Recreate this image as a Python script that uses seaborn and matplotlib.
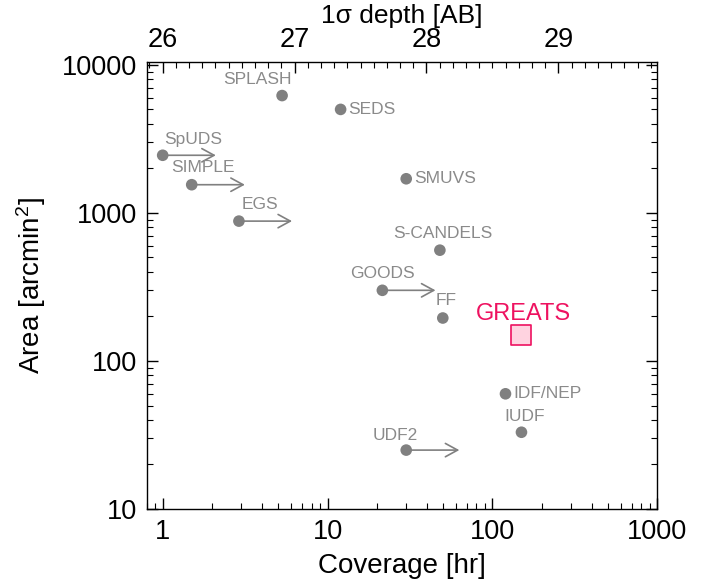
import numpy as np
import pandas as pd
import matplotlib
matplotlib.use("Agg")
import matplotlib.pyplot as plt
import matplotlib.ticker as mticker
import seaborn as sns

# survey data
names = ['SPLASH', 'SEDS', 'SpUDS', 'SIMPLE', 'EGS', 'SMUVS',
         'S-CANDELS', 'GOODS', 'FF', 'IDF/NEP', 'IUDF', 'UDF2']
coverage = [5.3, 12, 1.0, 1.5, 2.9, 30, 48, 21.5, 50, 120, 150, 30]   # hr
area = [6200, 5000, 2450, 1550, 880, 1700, 560, 300, 195, 60, 33, 25]  # arcmin^2
lower_limit = [False, False, True, True, True, False,
               False, True, False, False, False, True]

greats_cov = 150
greats_area = 150

arrow_factor = 2.1

# label placement (pixels from the dot) and alignment
label_offsets = {
    'SPLASH': (-25, 16, 'center'), 'SEDS': (8, 0, 'left'),
    'SpUDS': (31, 16, 'center'), 'SIMPLE': (11, 17, 'center'),
    'EGS': (21, 17, 'center'), 'SMUVS': (8, 0, 'left'),
    'S-CANDELS': (3, 17, 'center'), 'GOODS': (0, 17, 'center'),
    'FF': (3, 18, 'center'), 'IDF/NEP': (8, 0, 'left'),
    'IUDF': (3, 16, 'center'), 'UDF2': (-11, 15, 'center'),
}

GRAY = '#808080'
TXT_GRAY = '#8a8a8a'
PINK = '#EE1260'

sns.set_theme(style='ticks')
plt.rcParams['font.family'] = ['Liberation Sans', 'DejaVu Sans']
plt.rcParams['mathtext.default'] = 'regular'
plt.rcParams['text.color'] = 'black'
plt.rcParams['axes.labelcolor'] = 'black'
plt.rcParams['xtick.color'] = 'black'
plt.rcParams['ytick.color'] = 'black'

df = pd.DataFrame({'name': names, 'coverage': coverage, 'area': area,
                   'limit': lower_limit})

fig = plt.figure(figsize=(7.07, 5.82), dpi=100)
ax = fig.add_axes([0.2075, 0.1254, 0.7222, 0.7686])

sns.scatterplot(data=df, x='coverage', y='area', color=GRAY, s=70,
                edgecolor='none', ax=ax, zorder=3)

ax.set_xscale('log')
ax.set_yscale('log')
ax.set_xlim(0.8, 1000)
ax.set_ylim(10, 10500)

# lower-limit arrows
for _, r in df[df['limit']].iterrows():
    ax.annotate('', xy=(r['coverage'] * arrow_factor, r['area']),
                xytext=(r['coverage'], r['area']),
                arrowprops=dict(arrowstyle='->,head_length=0.55,head_width=0.3',
                                color=GRAY, lw=1.2, shrinkA=0, shrinkB=0,
                                mutation_scale=16), zorder=2)

for _, r in df.iterrows():
    dx, dy, ha = label_offsets[r['name']]
    ax.annotate(r['name'], (r['coverage'], r['area']), xytext=(dx, dy),
                textcoords='offset pixels', ha=ha, va='center',
                fontsize=12.5, color=TXT_GRAY)

# GREATS
ax.scatter([greats_cov], [greats_area], marker='s', s=200,
           facecolor='#FFD3E0', edgecolor=PINK, linewidth=1.2, zorder=4)
ax.annotate('GREATS', (greats_cov, greats_area), xytext=(2, 21),
            textcoords='offset pixels', ha='center', va='center',
            fontsize=17, color=PINK)

fmt = mticker.FuncFormatter(lambda v, _: f'{v:g}')
ax.xaxis.set_major_formatter(fmt)
ax.yaxis.set_major_formatter(fmt)
ax.xaxis.set_minor_formatter(mticker.NullFormatter())
ax.yaxis.set_minor_formatter(mticker.NullFormatter())

ax.tick_params(which='both', direction='in', top=False, right=True,
               color='black', labelsize=19.5)
ax.tick_params(which='major', length=8, width=1)
ax.tick_params(which='minor', length=4, width=0.8)
ax.tick_params(axis='x', pad=7)
ax.tick_params(axis='y', pad=7)

ax.set_xlabel('Coverage [hr]', fontsize=20, labelpad=6)
ax.set_ylabel('Area [arcmin$^2$]', fontsize=20, labelpad=10)

for sp in ax.spines.values():
    sp.set_color('black')
    sp.set_linewidth(1)
    sp.set_visible(True)

# top axis: 1-sigma depth scales as 1.25 log10(t)
top = ax.twiny()
lo, hi = ax.get_xlim()
top.set_xlim(26 + 1.25 * np.log10(lo), 26 + 1.25 * np.log10(hi))
top.xaxis.set_major_locator(mticker.MultipleLocator(1))
top.xaxis.set_minor_locator(mticker.MultipleLocator(0.1))
top.xaxis.set_major_formatter(mticker.FormatStrFormatter('%d'))
top.tick_params(which='both', direction='in', labelsize=19.5, pad=6)
top.tick_params(which='major', length=8, width=1)
top.tick_params(which='minor', length=4, width=0.8)
top.set_xlabel('1σ depth [AB]', fontsize=19, labelpad=3)
for sp in top.spines.values():
    sp.set_visible(False)

fig.savefig('out.png', dpi=100)
